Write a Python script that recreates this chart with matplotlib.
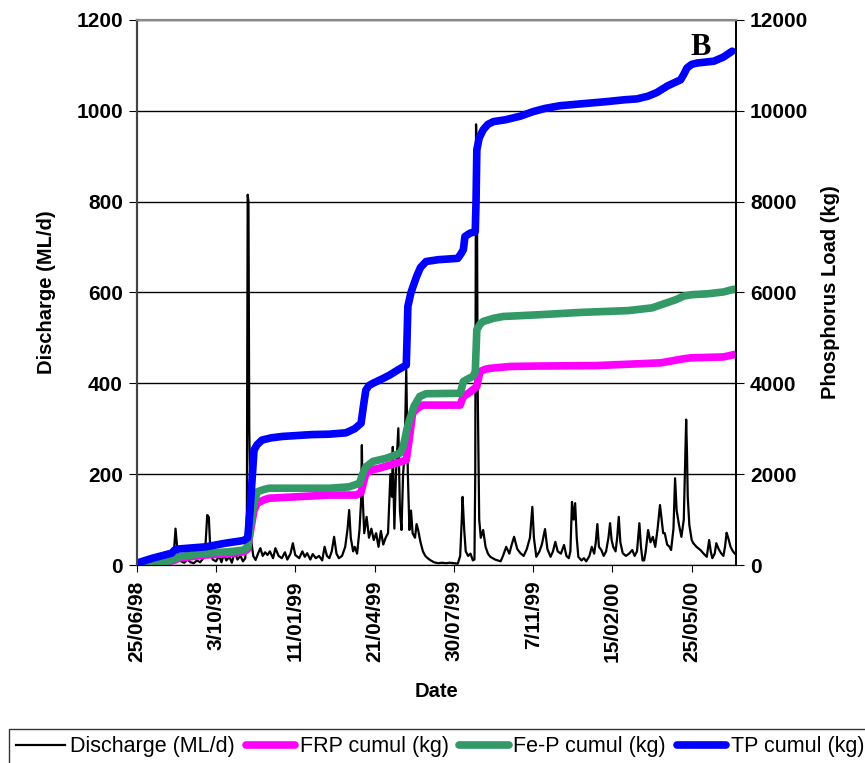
import matplotlib
matplotlib.use('Agg')
import matplotlib.pyplot as plt
from datetime import date, timedelta

plt.rcParams['font.family'] = ['Liberation Sans', 'DejaVu Sans']

# days after 25/06/98
dis_day = [0, 5, 10, 15, 20, 25, 30, 35, 40, 44, 47, 49, 51, 53, 56, 60, 64, 68, 72, 76, 80, 84, 87, 89, 91, 93,
           96, 100, 104, 107, 110, 113, 117, 120, 124, 127, 131, 134, 137, 139, 140, 141, 142, 144, 147, 150, 153,
           156, 159, 162, 165, 168, 172, 175, 179, 183, 187, 190, 194, 197, 200, 205, 209, 212, 215, 219, 222, 226,
           230, 234, 237, 240, 243, 246, 249, 252, 255, 259, 263, 266, 268, 270, 273, 275, 278, 281, 283, 284, 285,
           287, 290, 293, 296, 299, 302, 305, 308, 311, 314, 317, 320, 322, 323, 325, 327, 330, 332, 334, 336, 338,
           340, 342, 344, 346, 348, 351, 353, 355, 358, 361, 364, 367, 370, 375, 380, 385, 390, 395, 400, 405, 408,
           410, 411, 413, 415, 418, 421, 424, 426, 427, 428, 429, 430, 432, 434, 437, 440, 443, 446, 452, 459, 462,
           466, 470, 473, 476, 480, 484, 488, 492, 496, 499, 501, 504, 508, 511, 515, 518, 522, 525, 528, 531, 535,
           539, 542, 545, 547, 549, 551, 553, 555, 557, 561, 564, 567, 571, 574, 577, 579, 581, 583, 586, 589, 592,
           595, 597, 599, 601, 604, 606, 608, 610, 613, 617, 621, 625, 628, 631, 634, 636, 638, 640, 642, 645, 648,
           651, 654, 657, 660, 662, 664, 666, 669, 672, 674, 677, 679, 681, 684, 687, 690, 692, 693, 694, 695, 697,
           700, 702, 706, 711, 715, 719, 722, 724, 726, 729, 731, 734, 737, 740, 742, 744, 746, 749, 752, 754, 756]
dis_val = [5, 8, 4, 6, 10, 5, 3, 8, 5, 10, 30, 80, 40, 15, 8, 5, 12, 6, 4, 10, 6, 15, 50, 110, 105, 30,
           12, 8, 20, 6, 25, 10, 18, 5, 30, 12, 20, 8, 15, 120, 815, 800, 300, 60, 20, 11, 25,
           37, 20, 28, 22, 30, 15, 37, 20, 15, 28, 12, 25, 48, 22, 15, 30, 18, 26, 12, 24, 15,
           20, 10, 40, 20, 15, 30, 62, 25, 15, 20, 40, 80, 121, 60, 30, 40, 25, 77, 140, 264, 150,
           70, 106, 60, 80, 55, 70, 40, 75, 45, 60, 70, 200, 150, 260, 80, 200, 301, 120, 77, 200, 250,
           430, 200, 77, 120, 70, 60, 90, 77, 50, 30, 20, 15, 11, 6, 4, 5, 4, 5, 4, 3, 20,
           100, 150, 80, 30, 20, 25, 10, 12, 200, 970, 900, 400, 100, 60, 77, 40, 25, 18, 12, 8, 20,
           40, 25, 45, 62, 35, 26, 20, 35, 60, 128, 60, 18, 30, 45, 79, 35, 18, 30, 51, 30, 25,
           44, 20, 15, 30, 139, 100, 136, 60, 18, 10, 15, 8, 20, 40, 25, 50, 90, 40, 33, 20, 30,
           60, 92, 55, 40, 30, 60, 106, 50, 26, 20, 25, 33, 20, 30, 92, 40, 10, 10, 30, 77, 50,
           62, 40, 80, 132, 100, 70, 70, 45, 40, 33, 80, 191, 120, 88, 62, 100, 250, 320, 250, 150, 88,
           55, 48, 40, 33, 25, 18, 55, 30, 15, 25, 48, 35, 26, 20, 40, 71, 60, 40, 30, 26, 22]

tp_day = [0, 20, 44, 48, 51, 87, 112, 135, 140, 143, 146, 148, 152, 158, 170, 184, 220, 243, 264, 275, 283,
          286, 289, 293, 298, 310, 319, 330, 340, 341, 342, 346, 353, 358, 365, 380, 405, 409, 412, 414, 420,
          427, 428, 429, 432, 437, 443, 450, 465, 484, 500, 515, 534, 560, 593, 615, 631, 645, 656, 670, 686,
          690, 694, 700, 707, 728, 740, 751]
tp_val = [40, 150, 260, 330, 350, 400, 480, 540, 600, 1200, 2000, 2530, 2650, 2750, 2800, 2830, 2870, 2880,
          2910, 3000, 3120, 3500, 3850, 3950, 4000, 4100, 4180, 4300, 4400, 5000, 5690, 6000, 6350, 6550,
          6680, 6720, 6750, 6850, 6940, 7230, 7300, 7340, 8000, 9140, 9400, 9580, 9700, 9760, 9800, 9880,
          9980, 10050, 10110, 10150, 10200, 10240, 10260, 10320, 10400, 10550, 10680, 10800, 10940, 11020,
          11050, 11090, 11180, 11310]

fep_day = [0, 20, 40, 50, 53, 87, 116, 135, 140, 144, 147, 152, 160, 167, 243, 268, 281, 285, 289, 298, 315,
           332, 336, 338, 341, 344, 350, 357, 365, 408, 410, 412, 418, 424, 427, 429, 433, 437, 450, 462, 509,
           560, 620, 650, 680, 690, 700, 720, 740, 753]
fep_val = [0, 30, 80, 150, 180, 260, 290, 330, 400, 900, 1300, 1610, 1660, 1690, 1690, 1720, 1800, 2000, 2160,
           2280, 2350, 2460, 2600, 2750, 3000, 3190, 3500, 3710, 3770, 3780, 3900, 4040, 4100, 4150, 4250, 5180,
           5300, 5360, 5430, 5470, 5510, 5560, 5600, 5660, 5840, 5920, 5950, 5970, 6010, 6070]

frp_day = [0, 20, 40, 50, 53, 87, 116, 135, 140, 144, 148, 152, 160, 167, 243, 277, 283, 289, 298, 306, 340,
           344, 348, 354, 361, 408, 410, 412, 420, 429, 431, 433, 440, 446, 471, 509, 580, 661, 690, 699, 740, 756]
frp_val = [0, 20, 60, 120, 150, 220, 250, 290, 350, 800, 1200, 1360, 1430, 1470, 1540, 1540, 1600, 2020, 2100,
           2130, 2310, 2800, 3340, 3450, 3520, 3520, 3620, 3710, 3800, 3930, 4100, 4260, 4310, 4330, 4370, 4380,
           4390, 4450, 4540, 4560, 4580, 4640]

start = date(1998, 6, 25)
tick_days = [0, 100, 200, 300, 400, 500, 600, 700]
tick_labels = []
for d in tick_days:
    t = start + timedelta(days=d)
    tick_labels.append('{}/{:02d}/{:02d}'.format(t.day, t.month, t.year % 100))

fig = plt.figure(figsize=(8.65, 7.63), dpi=100)
ax = fig.add_axes([0.158, 0.2595, 0.693, 0.7145])
ax2 = ax.twinx()

l1, = ax.plot(dis_day, dis_val, color='black', lw=1.6, label='Discharge (ML/d)')
l2, = ax2.plot(frp_day, frp_val, color='#ff00ff', lw=5.5, solid_capstyle='round', label='FRP cumul (kg)')
l3, = ax2.plot(fep_day, fep_val, color='#339966', lw=5.5, solid_capstyle='round', label='Fe-P cumul (kg)')
l4, = ax2.plot(tp_day, tp_val, color='#0000ff', lw=5.5, solid_capstyle='round', label='TP cumul (kg)')

ax.set_xlim(0, 756)
ax.set_ylim(0, 1200)
ax2.set_ylim(0, 12000)
ax.set_yticks(range(0, 1201, 200))
ax2.set_yticks(range(0, 12001, 2000))
ax.set_xticks(tick_days)
ax.set_xticklabels(tick_labels, rotation=90, fontweight='bold', fontsize=15)
for lab in ax.get_yticklabels():
    lab.set_fontweight('bold')
    lab.set_fontsize(15)
for lab in ax2.get_yticklabels():
    lab.set_fontweight('bold')
    lab.set_fontsize(15)

ax.grid(axis='y', color='black', lw=1)
ax.set_axisbelow(True)
ax.tick_params(axis='x', direction='out', length=5, pad=6)
ax.tick_params(axis='y', direction='out', length=6, pad=4)
ax2.tick_params(axis='y', direction='out', length=6, pad=4)

for a in (ax, ax2):
    a.spines['top'].set_color('#888888')
    a.spines['top'].set_linewidth(1.5)
    a.spines['left'].set_color('#444444')
    a.spines['left'].set_linewidth(1.5)
    a.spines['right'].set_color('black')
    a.spines['right'].set_linewidth(1.2)
    a.spines['bottom'].set_color('black')

ax.set_ylabel('Discharge (ML/d)', fontweight='bold', fontsize=14.5)
ax.yaxis.set_label_coords(-0.134, 0.5)
ax2.set_ylabel('Phosphorus Load (kg)', fontweight='bold', fontsize=14.5)
ax2.yaxis.set_label_coords(1.142, 0.5)
ax.set_xlabel('Date', fontweight='bold', fontsize=14.5)
ax.xaxis.set_label_coords(0.5, -0.215)

ax.text(711, 1140, 'B', fontsize=22, fontweight='bold', family='Liberation Serif', ha='center', va='center')

leg = fig.legend(handles=[l1, l2, l3, l4], loc='upper left', bbox_to_anchor=(0.0104, 0.0445), ncol=4,
                 fontsize=15.5, frameon=True, fancybox=False, edgecolor='black', borderaxespad=0,
                 handlelength=2.28, handletextpad=0.23, columnspacing=0.5, borderpad=0.33)
leg.get_frame().set_linewidth(1)

fig.savefig('out.png', dpi=100)
